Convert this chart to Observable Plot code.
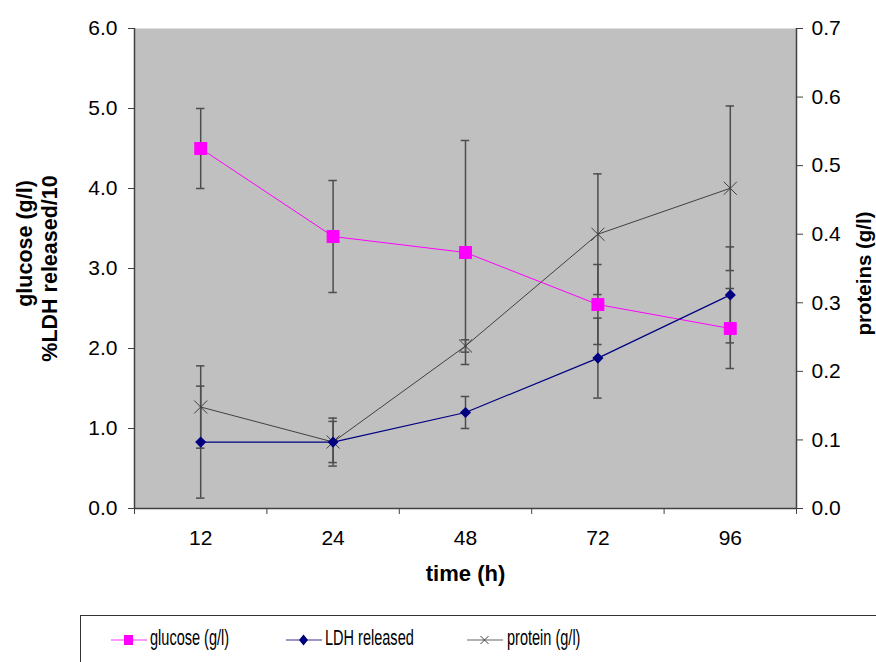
<!DOCTYPE html>
<html>
<head>
<meta charset="utf-8">
<script src="https://cdn.jsdelivr.net/npm/d3@7"></script>
<script src="https://cdn.jsdelivr.net/npm/@observablehq/plot@0.6"></script>
<style>
  html, body { margin: 0; padding: 0; background: #fff; }
  #wrap { position: relative; width: 876px; height: 662px; overflow: hidden; font-family: "Liberation Sans", Arial, sans-serif; }
  #legend { position: absolute; left: 80px; top: 615px; width: 820px; height: 60px; border-top: 1px solid #333; border-left: 1px solid #333; box-sizing: border-box; }
  .item { position: absolute; top: 0; height: 47px; }
  .item svg { position: absolute; top: 15px; }
  .lbl { position: absolute; top: 9px; font-size: 22px; white-space: nowrap; transform: scaleX(0.66); transform-origin: left center; color: #000; }
</style>
</head>
<body>
<div id="wrap">
  <div id="chart"></div>
  <div id="legend"></div>
</div>
<script>
const times = ["12", "24", "48", "72", "96"];
const glucose = [4.5, 3.4, 3.2, 2.55, 2.25];
const glucoseErr = [0.5, 0.7, 1.4, 0.5, 0.5];
const ldh = [0.83, 0.83, 1.2, 1.88, 2.67];
const ldhErr = [0.7, 0.3, 0.2, 0.5, 0.6];
const protein = [0.148, 0.097, 0.237, 0.4, 0.467];
const proteinErr = [0.06, 0.03, 0.009, 0.088, 0.12];
const leftTicks = [0, 1, 2, 3, 4, 5, 6];
const rightTicks = [0, 0.1, 0.2, 0.3, 0.4, 0.5, 0.6, 0.7];
const leftMax = 6, rightMax = 0.7;
const ratio = leftMax / rightMax;

const colors = { glucose: "#FF00FF", ldh: "#000080", protein: "#404040" };

function rows(vals, errs, k) {
  return vals.map((v, i) => ({ i, v: v * k, lo: (v - errs[i]) * k, hi: (v + errs[i]) * k }));
}
const gRows = rows(glucose, glucoseErr, 1);
const lRows = rows(ldh, ldhErr, 1);
const pRows = rows(protein, proteinErr, ratio);
const allErr = [...gRows, ...lRows, ...pRows];

const axisColor = "#404040";
const errColor = "#4d4d4d";
const cap = 0.032;
const tickFont = 21;
const titleFont = 21.5;
const xLeft = -0.5, xRight = times.length - 0.5;

const chart = Plot.plot({
  width: 876,
  height: 615,
  marginLeft: 134,
  marginRight: 80,
  marginTop: 28,
  marginBottom: 107,
  x: { domain: [xLeft, xRight], axis: null },
  y: { domain: [0, leftMax], axis: null },
  style: { fontFamily: "'Liberation Sans', Arial, sans-serif", background: "white", color: "#000" },
  marks: [
    Plot.frame({ fill: "#C0C0C0", stroke: null }),
    Plot.ruleX([xLeft], { stroke: axisColor, strokeWidth: 1.5 }),
    Plot.ruleX([xRight], { stroke: axisColor, strokeWidth: 1.5 }),
    Plot.ruleY([0], { stroke: axisColor, strokeWidth: 1.5 }),
    // tick marks
    Plot.axisY(leftTicks, { anchor: "left", tickSize: 6, stroke: axisColor, text: null, label: null }),
    Plot.axisY(rightTicks.map(v => v * ratio), { anchor: "right", tickSize: 6, stroke: axisColor, text: null, label: null }),
    Plot.axisX(d3.range(times.length + 1).map(i => i - 0.5), { anchor: "bottom", tickSize: 6, stroke: axisColor, text: null, label: null }),
    // tick labels
    Plot.text(leftTicks, { x: xLeft, y: d => d, dx: -17, textAnchor: "end", text: d => d.toFixed(1), fontSize: tickFont, fill: "#000" }),
    Plot.text(rightTicks, { x: xRight, y: d => d * ratio, dx: 15, textAnchor: "start", text: d => d.toFixed(1), fontSize: tickFont, fill: "#000" }),
    Plot.text(times, { x: (d, i) => i, y: 0, dy: 30, text: d => d, fontSize: tickFont, fill: "#000" }),
    // error bars
    Plot.ruleX(allErr, { x: "i", y1: "lo", y2: "hi", stroke: errColor, strokeWidth: 1.5 }),
    Plot.ruleY(allErr, { y: "hi", x1: d => d.i - cap, x2: d => d.i + cap, stroke: errColor, strokeWidth: 1.5 }),
    Plot.ruleY(allErr, { y: "lo", x1: d => d.i - cap, x2: d => d.i + cap, stroke: errColor, strokeWidth: 1.5 }),
    // lines
    Plot.line(pRows, { x: "i", y: "v", stroke: colors.protein, strokeWidth: 1 }),
    Plot.line(gRows, { x: "i", y: "v", stroke: colors.glucose, strokeWidth: 1 }),
    Plot.line(lRows, { x: "i", y: "v", stroke: colors.ldh, strokeWidth: 1.2 }),
    // markers
    Plot.dot(pRows, { x: "i", y: "v", symbol: "times", r: 6, stroke: colors.protein, strokeWidth: 1 }),
    Plot.dot(gRows, { x: "i", y: "v", symbol: "square", r: 7.3, fill: colors.glucose, stroke: null }),
    Plot.dot(lRows, { x: "i", y: "v", symbol: "diamond2", r: 5, fill: colors.ldh, stroke: null }),
    // titles
    Plot.text(["time (h)"], { frameAnchor: "bottom", dy: 72, fontWeight: "bold", fontSize: 22, fill: "#000", textAnchor: "middle", letterSpacing: "1.5px" }),
    Plot.text(["glucose (g/l)"], { frameAnchor: "left", textAnchor: "middle", rotate: -90, dx: -109, dy: -25, fontWeight: "bold", fontSize: titleFont, fill: "#000" }),
    Plot.text(["%LDH released/10"], { frameAnchor: "left", textAnchor: "middle", rotate: -90, dx: -84, dy: 0, fontWeight: "bold", fontSize: titleFont, fill: "#000" }),
    Plot.text(["proteins (g/l)"], { frameAnchor: "right", textAnchor: "middle", rotate: -90, dx: 68, dy: 5, fontWeight: "bold", fontSize: 20.5, fill: "#000" })
  ]
});
document.getElementById("chart").appendChild(chart);

const legendItems = [
  { label: "glucose (g/l)", color: colors.glucose, x: 30, textX: 69, marker: "square" },
  { label: "LDH released", color: colors.ldh, x: 205, textX: 244, marker: "diamond" },
  { label: "protein (g/l)", color: colors.protein, x: 386, textX: 426, marker: "times" }
];
const legend = document.getElementById("legend");
for (const it of legendItems) {
  const div = document.createElement("div");
  div.className = "item";
  div.style.left = it.x + "px";
  let m = "";
  if (it.marker === "square") m = `<rect x="13" y="4" width="9" height="10" fill="${it.color}"/>`;
  else if (it.marker === "diamond") m = `<path d="M17.5,3.5 L22,9 L17.5,14.5 L13,9 Z" fill="${it.color}"/>`;
  else m = `<path d="M13.5,5 L21.5,13 M21.5,5 L13.5,13" stroke="${it.color}" stroke-width="1"/>`;
  div.innerHTML = `<svg width="36" height="18"><line x1="0" y1="9" x2="36" y2="9" stroke="${it.color}" stroke-width="1.2" opacity="0.8"/>${m}</svg><span class="lbl" style="left:${it.textX - it.x}px">${it.label}</span>`;
  legend.appendChild(div);
}
</script>
</body>
</html>
